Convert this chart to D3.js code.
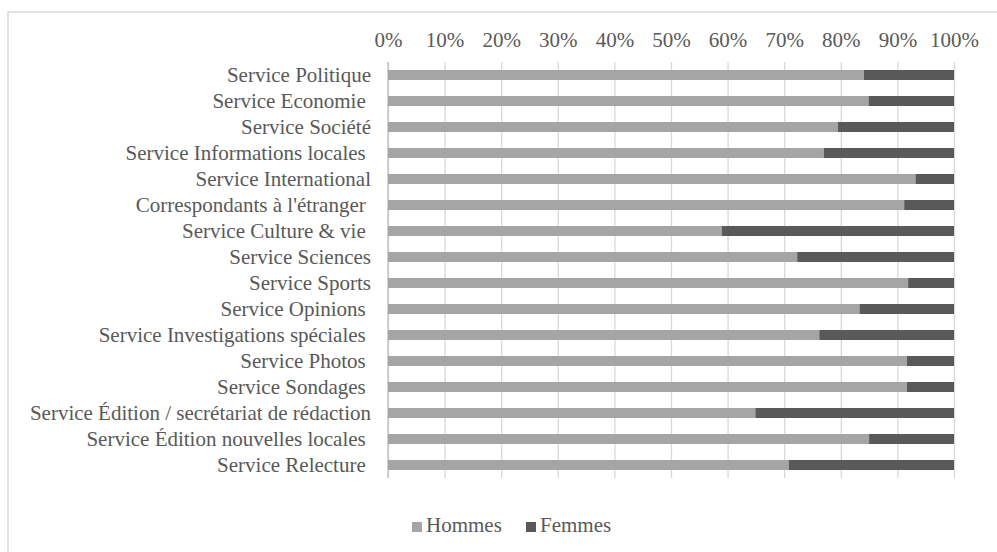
<!DOCTYPE html>
<html>
<head>
<meta charset="utf-8">
<script src="https://cdn.jsdelivr.net/npm/d3@7"></script>
<style>
  body { margin: 0; background: #fff; }
  svg text { font-family: "Liberation Serif", "Times New Roman", serif; fill: #595959; white-space: pre; }
</style>
</head>
<body>
<div id="chart"></div>
<script>
// categories (top to bottom), as in the source
const services = [
  "Service Politique", "Service Economie ", "Service Société", "Service Informations locales ",
  "Service International", "Correspondants à l'étranger ", "Service Culture & vie ",
  "Service Sciences", "Service Sports", "Service Opinions ", "Service Investigations spéciales ",
  "Service Photos ", "Service Sondages ", "Service Édition / secrétariat de rédaction",
  "Service Édition nouvelles locales ", "Service Relecture "
];
// share of men / women in %
const hommes = [84.1, 84.9, 79.5, 77.0, 93.2, 91.2, 59.0, 72.3, 91.9, 83.3, 76.2, 91.7, 91.7, 64.9, 85.0, 70.8];
const femmes = [15.9, 15.1, 20.5, 23.0, 6.8, 8.8, 41.0, 27.7, 8.1, 16.7, 23.8, 8.3, 8.3, 35.1, 15.0, 29.2];
const seriesNames = ["Hommes", "Femmes"];
const tickValues = [0, 0.1, 0.2, 0.3, 0.4, 0.5, 0.6, 0.7, 0.8, 0.9, 1];

const width = 997, height = 552;
const plot = { left: 388, right: 954, top: 62, bottom: 478 };
const colors = { Hommes: "#A5A5A5", Femmes: "#595959" };

const svg = d3.select("#chart").append("svg")
  .attr("width", width)
  .attr("height", height);

// chart border (cropped at right / bottom)
svg.append("rect")
  .attr("x", 8).attr("y", 12)
  .attr("width", 1000).attr("height", 560)
  .attr("fill", "none")
  .attr("stroke", "#D9D9D9")
  .attr("stroke-width", 1.5);

const rows = services.map((s, i) => ({ service: s, Hommes: hommes[i], Femmes: femmes[i] }));
const stacked = d3.stack().keys(seriesNames).offset(d3.stackOffsetExpand)(rows);

const x = d3.scaleLinear().domain([0, 1]).range([plot.left, plot.right]);
const y = d3.scaleBand()
  .domain(services)
  .range([plot.top, plot.bottom])
  .paddingInner(0.615)
  .paddingOuter(0.3077);

// top axis + gridlines
const xAxis = svg.append("g")
  .attr("transform", `translate(0,${plot.top})`)
  .call(d3.axisTop(x)
    .tickValues(tickValues)
    .tickFormat(d3.format(".0%"))
    .tickSizeInner(-(plot.bottom - plot.top))
    .tickSizeOuter(0)
    .tickPadding(15));
xAxis.select(".domain").remove();
xAxis.selectAll(".tick line").attr("stroke", "#D9D9D9").attr("stroke-width", 1.3);
xAxis.selectAll(".tick text").style("font-size", "21px").attr("fill", "#595959");

// left axis line
svg.append("line")
  .attr("x1", x(0)).attr("x2", x(0))
  .attr("y1", plot.top).attr("y2", plot.bottom)
  .attr("stroke", "#BFBFBF")
  .attr("stroke-width", 1.3);

// bars
svg.append("g").selectAll("g")
  .data(stacked)
  .join("g")
  .attr("fill", d => colors[d.key])
  .selectAll("rect")
  .data(d => d)
  .join("rect")
  .attr("x", d => x(d[0]))
  .attr("y", d => y(d.data.service))
  .attr("width", d => x(d[1]) - x(d[0]))
  .attr("height", y.bandwidth());

// category labels
svg.append("g").selectAll("text")
  .data(services)
  .join("text")
  .attr("x", 371)
  .attr("y", d => y(d) + y.bandwidth() / 2)
  .attr("dy", "0.35em")
  .attr("text-anchor", "end")
  .style("font-size", "21px")
  .text(d => d);

// legend
const legendX = [412, 526];
const legend = svg.append("g").selectAll("g")
  .data(seriesNames)
  .join("g")
  .attr("transform", (d, i) => `translate(${legendX[i]},522)`);
legend.append("rect")
  .attr("width", 10).attr("height", 10)
  .attr("fill", d => colors[d]);
legend.append("text")
  .attr("x", 14).attr("y", 10)
  .style("font-size", "21px")
  .text(d => d);
</script>
</body>
</html>
